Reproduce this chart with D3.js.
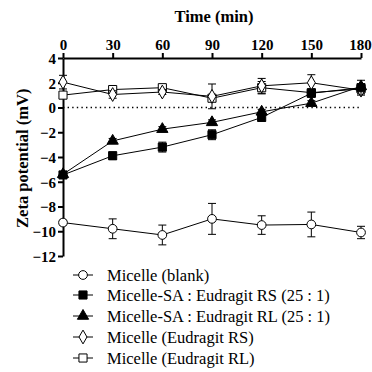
<!DOCTYPE html>
<html>
<head>
<meta charset="utf-8">
<script src="https://cdn.jsdelivr.net/npm/d3@7"></script>
<style>
body { margin: 0; background: #fff; }
</style>
</head>
<body>
<div class="chart"></div>
<script>
// Data ---------------------------------------------------------------------
const times = [0, 30, 60, 90, 120, 150, 180];
const xTicks = [0, 30, 60, 90, 120, 150, 180];
const yTicks = [4, 2, 0, -2, -4, -6, -8, -10, -12];

const blank = [-9.3, -9.8, -10.3, -9.0, -9.5, -9.45, -10.1];
const blankErr = [0.2, 0.8, 0.8, 1.25, 0.75, 1.0, 0.5];
const rs25 = [-5.45, -3.9, -3.2, -2.2, -0.8, 1.15, 1.6];
const rs25Err = [0.2, 0.3, 0.4, 0.4, 0.3, 0.3, 0.6];
const rl25 = [-5.4, -2.7, -1.75, -1.2, -0.35, 0.35, 1.7];
const rl25Err = [0.2, 0.2, 0.2, 0.2, 0.2, 0.2, 0.2];
const rsOnly = [2.05, 1.05, 1.25, 0.9, 1.75, 2.0, 1.4];
const rsOnlyErr = [0.55, 0.3, 0.2, 1.0, 0.6, 0.65, 0.3];
const rlOnly = [1.0, 1.45, 1.6, 0.75, 1.6, 1.2, 1.5];
const rlOnlyErr = [0.2, 0.2, 0.2, 0.2, 0.5, 0.2, 0.3];

const series = [
  { name: "Micelle (blank)", values: blank, err: blankErr, shape: "circle", fill: "#fff" },
  { name: "Micelle-SA : Eudragit RS (25 : 1)", values: rs25, err: rs25Err, shape: "square", fill: "#000" },
  { name: "Micelle-SA : Eudragit RL (25 : 1)", values: rl25, err: rl25Err, shape: "triangle", fill: "#000" },
  { name: "Micelle (Eudragit RS)", values: rsOnly, err: rsOnlyErr, shape: "diamond", fill: "#fff" },
  { name: "Micelle (Eudragit RL)", values: rlOnly, err: rlOnlyErr, shape: "square", fill: "#fff" }
];

const serif = "'Liberation Serif', 'Times New Roman', serif";

// SVG ---------------------------------------------------------------------
const width = 372, height = 372;
const margin = { top: 58, left: 63, right: 11, bottom: 116 };

const svg = d3.select(".chart").append("svg")
  .attr("width", width).attr("height", height)
  .style("font-family", serif);

const xScale = d3.scaleLinear().domain([0, 180]).range([margin.left, width - margin.right]);
const yScale = d3.scaleLinear().domain([-12, 4]).range([height - margin.bottom, margin.top]);

// Zero line
svg.append("line")
  .attr("x1", xScale(0)).attr("x2", xScale(180))
  .attr("y1", yScale(0)).attr("y2", yScale(0))
  .attr("stroke", "#000").attr("stroke-width", 1.4)
  .attr("stroke-dasharray", "1.4,3.2");

// Axes ---------------------------------------------------------------------
const xAxis = d3.axisTop(xScale).tickValues(xTicks).tickSize(5).tickSizeOuter(0).tickPadding(3);
const gx = svg.append("g").attr("transform", `translate(0,${yScale(4)})`).call(xAxis);

const yAxis = d3.axisLeft(yScale).tickValues(yTicks).tickSize(5).tickSizeOuter(0).tickPadding(2);
const gy = svg.append("g").attr("transform", `translate(${xScale(0)},0)`).call(yAxis);

[gx, gy].forEach(g => {
  g.attr("font-family", null);
  g.select(".domain").attr("stroke-width", 2);
  g.selectAll(".tick line").attr("stroke-width", 2);
  g.selectAll("text").attr("font-size", 15).attr("font-weight", "bold")
    .style("font-family", serif).attr("fill", "#000");
});
gy.selectAll("text").attr("dy", "0.35em");
gx.selectAll("text").filter(d => d === 180).attr("dx", -1);

svg.append("text")
  .attr("x", (xScale(0) + xScale(180)) / 2 + 2).attr("y", 22)
  .attr("text-anchor", "middle").attr("font-size", 16.5).attr("font-weight", "bold")
  .text("Time (min)");

svg.append("text")
  .attr("transform", `translate(28,${yScale(-4.1)}) rotate(-90)`)
  .attr("text-anchor", "middle").attr("font-size", 16.5).attr("font-weight", "bold")
  .text("Zeta potential (mV)");

// Symbols ---------------------------------------------------------------------
const symbolType = {
  circle: d3.symbolCircle, square: d3.symbolSquare,
  triangle: d3.symbolTriangle, diamond: d3.symbolDiamond
};
const symbolSize = { circle: 60, square: 66, triangle: 55, diamond: 55 };

function symbolPath(shape) {
  return d3.symbol().type(symbolType[shape]).size(symbolSize[shape])();
}

const line = d3.line()
  .x((d, i) => xScale(times[i]))
  .y(d => yScale(d));

// draw order: back to front
const order = [0, 4, 3, 2, 1];
order.forEach(k => {
  const s = series[k];
  const g = svg.append("g");
  g.append("path").datum(s.values)
    .attr("d", line).attr("fill", "none").attr("stroke", "#000").attr("stroke-width", 1);

  const eb = g.selectAll(".eb").data(s.values).join("g");
  eb.append("line")
    .attr("x1", (d, i) => xScale(times[i])).attr("x2", (d, i) => xScale(times[i]))
    .attr("y1", (d, i) => yScale(d + s.err[i])).attr("y2", (d, i) => yScale(d - s.err[i]))
    .attr("stroke", "#000").attr("stroke-width", 1);
  [1, -1].forEach(sign => {
    eb.append("line")
      .attr("x1", (d, i) => xScale(times[i]) - 4).attr("x2", (d, i) => xScale(times[i]) + 4)
      .attr("y1", (d, i) => yScale(d + sign * s.err[i])).attr("y2", (d, i) => yScale(d + sign * s.err[i]))
      .attr("stroke", "#000").attr("stroke-width", 1);
  });

  g.selectAll(".pt").data(s.values).join("path")
    .attr("transform", (d, i) => `translate(${xScale(times[i])},${yScale(d)})`)
    .attr("d", symbolPath(s.shape))
    .attr("fill", s.fill).attr("stroke", "#000").attr("stroke-width", 1);
});

// Legend ---------------------------------------------------------------------
const legend = svg.append("g");
const legendY = [275, 295, 316, 337, 358];
series.forEach((s, i) => {
  const row = legend.append("g").attr("transform", `translate(0,${legendY[i]})`);
  row.append("line").attr("x1", 73).attr("x2", 93).attr("y1", 0).attr("y2", 0)
    .attr("stroke", "#000").attr("stroke-width", 1);
  row.append("path").attr("transform", "translate(83,0)")
    .attr("d", symbolPath(s.shape)).attr("fill", s.fill).attr("stroke", "#000");
  row.append("text").attr("x", 107).attr("y", 0).attr("dy", "0.35em")
    .attr("font-size", 16.5).text(s.name);
});
</script>
</body>
</html>
